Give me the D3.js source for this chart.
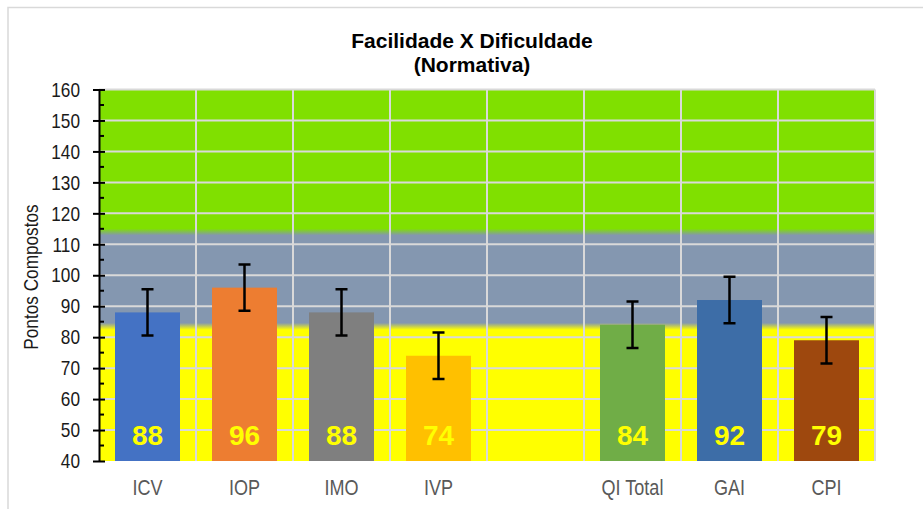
<!DOCTYPE html>
<html>
<head>
<meta charset="utf-8">
<script src="https://cdn.jsdelivr.net/npm/d3@7"></script>
<style>
  body { margin: 0; background: #fff; }
  text { font-family: "Liberation Sans", Arial, sans-serif; }
</style>
</head>
<body>
<div id="chart"></div>
<script>
const width = 923,
  height = 509,
  margin = { top: 89.5, bottom: 48, left: 99, right: 48 };

// data
const categories = ["ICV", "IOP", "IMO", "IVP", "", "QI Total", "GAI", "CPI"];
const scores = [88, 96, 88, 74, null, 84, 92, 79];
const errors = [7.5, 7.5, 7.5, 7.5, null, 7.5, 7.5, 7.5];
const barColors = ["#4472C4", "#ED7D31", "#7F7F7F", "#FFC000", "none", "#70AD47", "#3D6DA7", "#9E480E"];
const yTicks = [40, 50, 60, 70, 80, 90, 100, 110, 120, 130, 140, 150, 160];
// background zones: upper limit of average band, lower limit
const zoneBreaks = [114, 83.5];
const zoneColors = ["#80E000", "#8497B0", "#FFFF00"];

const narrow = 0.82; // axis text is a condensed face in the original

const data = categories.map((c, i) => ({ cat: c, value: scores[i], err: errors[i], color: barColors[i], i: i }));

const svg = d3.select("#chart")
  .append("svg")
  .attr("width", width)
  .attr("height", height);

// outer frame
svg.append("path")
  .attr("d", "M8,509 V7.5 H923")
  .attr("fill", "none")
  .attr("stroke", "#d9d9d9")
  .attr("stroke-width", 1.5);

const innerW = width - margin.left - margin.right,
  innerH = height - margin.top - margin.bottom;

const xScale = d3.scaleBand()
  .domain(d3.range(categories.length))
  .range([0, innerW]);

const yScale = d3.scaleLinear()
  .domain([40, 160])
  .range([innerH, 0]);

const g = svg.append("g")
  .attr("transform", "translate(" + margin.left + "," + margin.top + ")");

// zone gradient
const defs = svg.append("defs");
const grad = defs.append("linearGradient")
  .attr("id", "zones")
  .attr("gradientUnits", "userSpaceOnUse")
  .attr("x1", 0).attr("x2", 0)
  .attr("y1", 0).attr("y2", innerH);
const stop = (v) => yScale(v) / innerH;
const blur = 1.1;
[
  [0, zoneColors[0]],
  [stop(zoneBreaks[0] + blur), zoneColors[0]],
  [stop(zoneBreaks[0] - blur), zoneColors[1]],
  [stop(zoneBreaks[1] + blur), zoneColors[1]],
  [stop(zoneBreaks[1] - blur), zoneColors[2]],
  [1, zoneColors[2]]
].forEach(s => grad.append("stop").attr("offset", s[0]).attr("stop-color", s[1]));

g.append("rect")
  .attr("width", innerW)
  .attr("height", innerH)
  .attr("fill", "url(#zones)");

// gridlines
g.selectAll(".hgrid")
  .data(yTicks.filter(t => t > 40))
  .enter()
  .append("line")
  .attr("x1", 0)
  .attr("x2", innerW)
  .attr("y1", d => yScale(d))
  .attr("y2", d => yScale(d))
  .attr("stroke", "#d9d9d9")
  .attr("stroke-width", 2);

g.selectAll(".vgrid")
  .data(d3.range(1, categories.length + 1))
  .enter()
  .append("line")
  .attr("x1", d => d * xScale.step())
  .attr("x2", d => d * xScale.step())
  .attr("y1", 0)
  .attr("y2", innerH)
  .attr("stroke", "#d9d9d9")
  .attr("stroke-width", 2);

// bars
const bw = xScale.bandwidth() * 0.67;
const bars = data.filter(d => d.value != null);
const cx = d => xScale(d.i) + xScale.bandwidth() / 2;

g.selectAll(".bar")
  .data(bars)
  .enter()
  .append("rect")
  .attr("x", d => xScale(d.i) + (xScale.bandwidth() - bw) / 2)
  .attr("y", d => yScale(d.value))
  .attr("width", bw)
  .attr("height", d => yScale(40) - yScale(d.value))
  .attr("fill", d => d.color);

// error bars
g.selectAll(".err")
  .data(bars)
  .enter()
  .append("path")
  .attr("d", d => {
    const t = yScale(d.value + d.err), b = yScale(d.value - d.err), x = cx(d);
    return "M" + (x - 6) + "," + t + "H" + (x + 6) + "M" + x + "," + t + "V" + b + "M" + (x - 6) + "," + b + "H" + (x + 6);
  })
  .attr("fill", "none")
  .attr("stroke", "#000")
  .attr("stroke-width", 2.5);

// value labels
g.selectAll(".val")
  .data(bars)
  .enter()
  .append("text")
  .attr("x", cx)
  .attr("y", yScale(40) - 16)
  .attr("text-anchor", "middle")
  .attr("font-weight", "bold")
  .attr("font-size", "28px")
  .attr("fill", "#FFFF00")
  .text(d => d.value);

// y axis
const yAxis = g.append("g")
  .call(d3.axisLeft(yScale).tickValues(yTicks).tickSize(6).tickSizeOuter(0));
yAxis.select(".domain").attr("stroke", "#000").attr("stroke-width", 2);
yAxis.selectAll(".tick line").attr("x2", 6).attr("x1", -6).attr("stroke-width", 2);
yAxis.selectAll(".tick text")
  .attr("transform", "scale(" + narrow + ",1)")
  .attr("x", -19 / narrow)
  .attr("font-family", "'Liberation Sans', Arial, sans-serif")
  .attr("font-size", "21px")
  .attr("fill", "#1a1a1a");

g.selectAll(".minor")
  .data(d3.range(45, 160, 10))
  .enter()
  .append("line")
  .attr("x1", 0)
  .attr("x2", 5)
  .attr("y1", d => yScale(d))
  .attr("y2", d => yScale(d))
  .attr("stroke", "#000")
  .attr("stroke-width", 2);

// x labels
g.selectAll(".xlab")
  .data(data)
  .enter()
  .append("text")
  .attr("transform", d => "translate(" + cx(d) + "," + (innerH + 34) + ") scale(" + narrow + ",1)")
  .attr("text-anchor", "middle")
  .attr("font-size", "22px")
  .attr("fill", "#595959")
  .text(d => d.cat);

// axis title
svg.append("text")
  .attr("transform", "translate(38,277) rotate(-90) scale(" + narrow + ",1)")
  .attr("text-anchor", "middle")
  .attr("font-size", "21px")
  .attr("fill", "#1a1a1a")
  .text("Pontos Compostos");

// title
const title = svg.append("text")
  .attr("x", 472)
  .attr("text-anchor", "middle")
  .attr("font-weight", "bold")
  .attr("font-size", "21px")
  .attr("fill", "#000");
title.append("tspan").attr("x", 472).attr("y", 48).text("Facilidade X Dificuldade");
title.append("tspan").attr("x", 472).attr("y", 72).text("(Normativa)");
</script>
</body>
</html>
